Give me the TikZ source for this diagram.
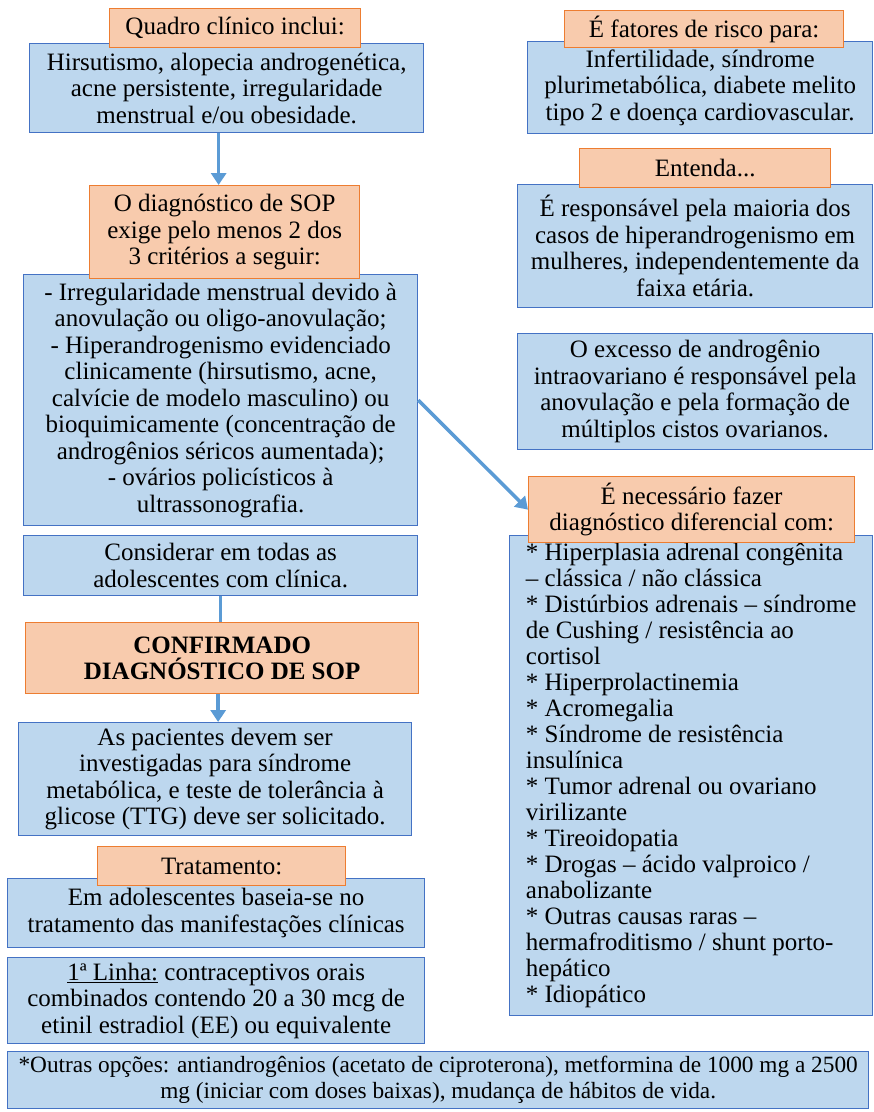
\documentclass[tikz,border=0pt]{standalone}
\usepackage{fontspec}
\setmainfont{Liberation Serif}
\usetikzlibrary{arrows.meta}

\definecolor{cabfill}{RGB}{248,203,173}
\definecolor{cabline}{RGB}{237,125,49}
\definecolor{caixafill}{RGB}{189,215,238}
\definecolor{caixaline}{RGB}{68,114,196}
\definecolor{setacor}{RGB}{91,155,213}

\begin{document}
\begin{tikzpicture}[x = 1pt, y = -1pt, % one unit per pixel
                > = {Triangle[width = 15pt, length = 12pt]}, % arrow head style
                semithick % line style
            ]

            \tikzstyle{every node}=[anchor = north west, inner sep = 0pt,
            font = \fontsize{25}{26.5}\selectfont]
            \tikzstyle{topo}=[draw = cabline, fill = cabfill, line width = 1.3pt,
            align = center]
            \tikzstyle{caixa}=[draw = caixaline, fill = caixafill, line width = 1.3pt,
            align = center]
            \tikzstyle{seta}=[draw = setacor, line width = 3.5pt]

            \useasboundingbox (0,0) rectangle (874,1112);

            % left column
            \node[caixa, minimum width = 394pt, minimum height = 89pt] (sinais) at (29,43)
            {Hirsutismo, alopecia androgenética,\\ acne persistente, irregularidade\\
            menstrual e/ou obesidade.};
            \node[topo, minimum width = 251pt, minimum height = 39pt] (quadro) at (109,8)
            {Quadro clínico inclui:};

            \node[caixa, minimum width = 394pt, minimum height = 251pt] (criterios) at (23,274)
            {- Irregularidade menstrual devido à\\ anovulação ou oligo-anovulação;\\
            - Hiperandrogenismo evidenciado\\ clinicamente (hirsutismo, acne,\\
            calvície de modelo masculino) ou\\ bioquimicamente (concentração de\\
            androgênios séricos aumentada);\\ - ovários policísticos à\\
            ultrassonografia.};
            \node[topo, minimum width = 270pt, minimum height = 93pt] (diag) at (89,185)
            {O diagnóstico de SOP\\ exige pelo menos 2 dos\\ 3 critérios a seguir:};

            \node[caixa, minimum width = 394pt, minimum height = 60pt] (considerar) at (23,535)
            {Considerar em todas as\\ adolescentes com clínica.};
            \node[topo, minimum width = 393pt, minimum height = 71pt, font =
            \fontsize{25}{26.5}\selectfont\bfseries] (confirmado) at (25,622)
            {CONFIRMADO\\ DIAGNÓSTICO DE SOP};
            \node[caixa, minimum width = 393pt, minimum height = 113pt] (pacientes) at (18,722)
            {As pacientes devem ser\\ investigadas para síndrome\\
            metabólica, e teste de tolerância à\\ glicose (TTG) deve ser solicitado.};

            \node[caixa, minimum width = 417pt, minimum height = 69pt] (adolesc) at (7,878)
            {Em adolescentes baseia-se no\\ tratamento das manifestações clínicas};
            \node[topo, minimum width = 248pt, minimum height = 39pt] (tratamento) at (97,846)
            {Tratamento:};
            \node[caixa, minimum width = 417pt, minimum height = 86pt] (linha) at (7,957)
            {\underline{1ª Linha:} contraceptivos orais\\ combinados contendo 20 a 30 mcg de\\
            etinil estradiol (EE) ou equivalente};
            \node[caixa, minimum width = 861pt, minimum height = 57pt, font =
            \fontsize{23.3}{26}\selectfont] (outras) at (7,1051)
            {*Outras opções: antiandrogênios (acetato de ciproterona), metformina de 1000 mg a 2500\\
            mg (iniciar com doses baixas), mudança de hábitos de vida.};

            % right column
            \node[caixa, minimum width = 345pt, minimum height = 92pt] (fatores) at (527,41)
            {Infertilidade, síndrome\\ plurimetabólica, diabete melito\\
            tipo 2 e doença cardiovascular.};
            \node[topo, minimum width = 279pt, minimum height = 37pt] (risco) at (564,10)
            {É fatores de risco para:};

            \node[caixa, minimum width = 355pt, minimum height = 123pt] (responsavel) at (517,184)
            {É responsável pela maioria dos\\ casos de hiperandrogenismo em\\
            mulheres, independentemente da\\ faixa etária.};
            \node[topo, minimum width = 251pt, minimum height = 39pt] (entenda) at (579,148)
            {Entenda...};

            \node[caixa, minimum width = 355pt, minimum height = 116pt] (excesso) at (517,333)
            {O excesso de androgênio\\ intraovariano é responsável pela\\
            anovulação e pela formação de\\ múltiplos cistos ovarianos.};

            \node[caixa, minimum width = 363pt, minimum height = 480pt, align = left,
            font = \fontsize{25}{26}\selectfont] (lista) at (509,535)
            {{*} Hiperplasia adrenal congênita\\ – clássica / não clássica\\
            {*} Distúrbios adrenais – síndrome\\ de Cushing / resistência ao\\ cortisol\\
            {*} Hiperprolactinemia\\ {*} Acromegalia\\ {*} Síndrome de resistência\\ insulínica\\
            {*} Tumor adrenal ou ovariano\\ virilizante\\ {*} Tireoidopatia\\
            {*} Drogas – ácido valproico /\\ anabolizante\\ {*} Outras causas raras –\\
            hermafroditismo / shunt porto-\\ hepático\\ {*} Idiopático};
            \node[topo, minimum width = 326pt, minimum height = 66pt] (necessario) at (528,476)
            {É necessário fazer\\ diagnóstico diferencial com:};

            % connectors
            \draw[seta, ->] ([xshift = -8pt]sinais.south) -- ([xshift = -8pt]sinais.south |- diag.north);
            \draw[seta] (considerar.south) -- (considerar.south |- confirmado.north);
            \draw[seta, ->] ([xshift = -4pt]confirmado.south) -- ([xshift = -4pt]confirmado.south |- pacientes.north);
            \draw[seta, ->] (criterios.east) -- (necessario.west);
\end{tikzpicture}
\end{document}
